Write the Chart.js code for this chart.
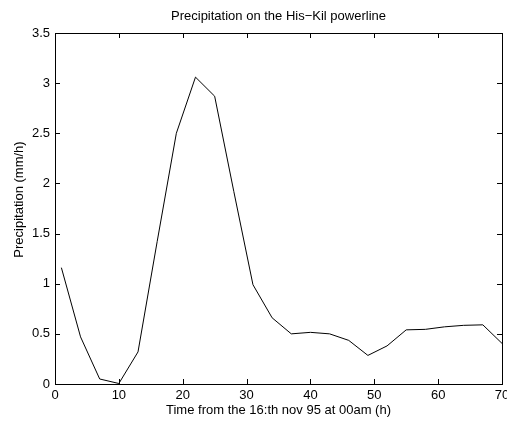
<!DOCTYPE html>
<html>
<head>
<meta charset="utf-8">
<script src="https://cdn.jsdelivr.net/npm/chart.js@4.4.1/dist/chart.umd.min.js"></script>
<style>
  body { margin: 0; background: #fff; }
  canvas { display: block; }
</style>
</head>
<body>
<canvas id="precipChart" width="507" height="421"></canvas>
<script>
// hours after 16 nov 95 00:00
const hours = [1, 4, 7, 10, 13, 16, 19, 22, 25, 28, 31, 34, 37, 40, 43, 46, 49, 52, 55, 58, 61, 64, 67, 70];
// precipitation, mm/h
const precipitation = [1.16, 0.47, 0.05, 0.005, 0.32, 1.42, 2.5, 3.06, 2.87, 1.92, 0.99, 0.66, 0.5, 0.515, 0.5, 0.435, 0.285, 0.38, 0.54, 0.545, 0.57, 0.585, 0.59, 0.405];
const xTicks = [0, 10, 20, 30, 40, 50, 60, 70];
const yTicks = [0, 0.5, 1, 1.5, 2, 2.5, 3, 3.5];

const titleText = "Precipitation on the His\u2212Kil powerline";
const yTitleText = "Precipitation (mm/h)";
const fontFamily = "'Liberation Sans', Arial, Helvetica, sans-serif";

// matlab style box with inward ticks on all sides, plus title and ylabel
const boxPlugin = {
  id: "matlabBox",
  afterDraw: (chart) => {
    const ctx = chart.ctx;
    const area = chart.chartArea;
    const xs = chart.scales.x;
    const ys = chart.scales.y;
    const tl = 5;
    ctx.save();
    ctx.strokeStyle = "#000";
    ctx.lineWidth = 1;
    ctx.beginPath();
    xTicks.forEach((v) => {
      const px = Math.round(xs.getPixelForValue(v)) + 0.5;
      ctx.moveTo(px, area.bottom);
      ctx.lineTo(px, area.bottom - tl);
      ctx.moveTo(px, area.top);
      ctx.lineTo(px, area.top + tl);
    });
    yTicks.forEach((v) => {
      const py = Math.round(ys.getPixelForValue(v)) + 0.5;
      ctx.moveTo(area.left, py);
      ctx.lineTo(area.left + tl, py);
      ctx.moveTo(area.right, py);
      ctx.lineTo(area.right - tl, py);
    });
    ctx.stroke();
    ctx.strokeRect(Math.round(area.left) + 0.5, Math.round(area.top) + 0.5,
      Math.round(area.right - area.left), Math.round(area.bottom - area.top));

    ctx.fillStyle = "#000";
    ctx.font = "13px " + fontFamily;
    ctx.textAlign = "center";
    ctx.textBaseline = "alphabetic";
    ctx.fillText(titleText, (area.left + area.right) / 2, 20);

    // ylabel sits a little above the axis centre in the original
    ctx.translate(23, (area.top + area.bottom) / 2 - 9);
    ctx.rotate(-Math.PI / 2);
    ctx.fillText(yTitleText, 0, 0);
    ctx.restore();
  },
};

const ctx = document.getElementById("precipChart").getContext("2d");
new Chart(ctx, {
  type: "line",
  data: {
    datasets: [
      {
        data: hours.map((h, i) => ({ x: h, y: precipitation[i] })),
        borderColor: "#000",
        borderWidth: 1,
        pointRadius: 0,
        tension: 0,
        fill: false,
      },
    ],
  },
  options: {
    responsive: false,
    animation: false,
    devicePixelRatio: 1,
    layout: {
      autoPadding: false,
      padding: { top: 33, right: 5, bottom: 0, left: 0 },
    },
    plugins: {
      legend: { display: false },
      tooltip: { enabled: false },
      title: { display: false },
    },
    scales: {
      x: {
        type: "linear",
        min: 0,
        max: 70,
        afterFit: (scale) => {
          scale.height = 37;
          scale.paddingLeft = 0;
          scale.paddingRight = 0;
        },
        afterBuildTicks: (scale) => { scale.ticks = xTicks.map((v) => ({ value: v })); },
        grid: { display: false, drawTicks: false },
        border: { display: false },
        ticks: {
          color: "#000",
          padding: 4,
          maxRotation: 0,
          font: { family: fontFamily, size: 13 },
          callback: (v) => String(v),
        },
        title: {
          display: true,
          text: "Time from the 16:th nov 95 at 00am (h)",
          color: "#000",
          font: { family: fontFamily, size: 13 },
          padding: { top: 0, bottom: 3 },
        },
      },
      y: {
        type: "linear",
        min: 0,
        max: 3.5,
        afterFit: (scale) => {
          scale.width = 55;
          scale.paddingTop = 0;
          scale.paddingBottom = 0;
        },
        afterBuildTicks: (scale) => { scale.ticks = yTicks.map((v) => ({ value: v })); },
        grid: { display: false, drawTicks: false },
        border: { display: false },
        ticks: {
          color: "#000",
          padding: 5,
          font: { family: fontFamily, size: 13 },
          callback: (v) => String(v),
        },
      },
    },
  },
  plugins: [boxPlugin],
});
</script>
</body>
</html>
